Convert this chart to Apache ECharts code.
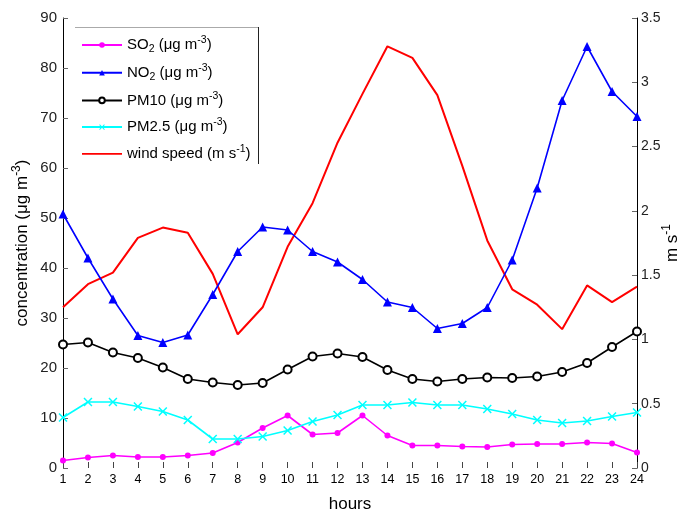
<!DOCTYPE html>
<html>
<head>
<meta charset="utf-8">
<script src="https://cdn.jsdelivr.net/npm/echarts@6/dist/echarts.min.js"></script>
<style>html,body{margin:0;padding:0;background:#fff}#c{width:683px;height:512px}</style>
</head>
<body>
<div id="c"></div>
<script>
const hours = [1,2,3,4,5,6,7,8,9,10,11,12,13,14,15,16,17,18,19,20,21,22,23,24];
const so2  = [1.5,2.1,2.5,2.2,2.2,2.5,3.0,5.1,8.0,10.5,6.7,7.0,10.5,6.5,4.5,4.5,4.3,4.2,4.7,4.8,4.8,5.1,4.9,3.1];
const no2  = [50.8,42.0,33.8,26.5,25.1,26.6,34.7,43.3,48.2,47.6,43.3,41.2,37.7,33.2,32.1,27.9,28.9,32.1,41.6,56.0,73.5,84.3,75.3,70.3];
const pm10 = [24.7,25.1,23.1,22.0,20.1,17.8,17.1,16.6,17.0,19.7,22.3,22.9,22.2,19.6,17.8,17.3,17.8,18.1,18.0,18.3,19.2,21.0,24.2,27.3];
const pm25 = [10.1,13.2,13.2,12.3,11.3,9.6,5.8,5.8,6.3,7.5,9.3,10.6,12.6,12.6,13.1,12.6,12.6,11.8,10.8,9.6,9.0,9.4,10.3,11.1];
const wind = [1.25,1.43,1.52,1.79,1.87,1.83,1.51,1.04,1.25,1.72,2.06,2.53,2.91,3.28,3.19,2.90,2.35,1.77,1.39,1.27,1.08,1.42,1.29,1.41];
const leftTicks = [0,10,20,30,40,50,60,70,80,90];
const rightTicks = [0,0.5,1,1.5,2,2.5,3,3.5];

const pair = arr => hours.map((h,i)=>[h, arr[i]]);
const FONT = 'Liberation Sans, Arial, sans-serif';
const xMark = 'path://M0,1.2L1.2,0L5,3.8L8.8,0L10,1.2L6.2,5L10,8.8L8.8,10L5,6.2L1.2,10L0,8.8L3.8,5Z';
const lineIcon = 'path://M0,0L0.1,0L0,0.1ZM0,2.6L40,2.6L40,4.4L0,4.4ZM0,7L0.1,7L0,6.9Z';

const legendRich = {
  t:{fontSize:15,fontFamily:FONT,color:'#000',lineHeight:20,verticalAlign:'middle'},
  sub:{fontSize:10.5,fontFamily:FONT,color:'#000',lineHeight:20,verticalAlign:'bottom',padding:[8,0,0,0]},
  sup:{fontSize:10.5,fontFamily:FONT,color:'#000',lineHeight:20,verticalAlign:'top',padding:[0,0,8,0]}
};
const legendText = {
  'SO2':'{t|SO}{sub|2}{t| (μg m}{sup|-3}{t|)}',
  'NO2':'{t|NO}{sub|2}{t| (μg m}{sup|-3}{t|)}',
  'PM10':'{t|PM10 (μg m}{sup|-3}{t|)}',
  'PM2.5':'{t|PM2.5 (μg m}{sup|-3}{t|)}',
  'wind':'{t|wind speed (m s}{sup|-1}{t|)}'
};

const chart = echarts.init(document.getElementById('c'));
chart.setOption({
  animation:false,
  backgroundColor:'#fff',
  grid:{left:63,right:46,top:18,bottom:44,containLabel:false,outerBoundsMode:'none'},
  graphic:[
    {type:'line',shape:{x1:75,y1:27.5,x2:259,y2:27.5},style:{stroke:'#aaa',lineWidth:1},z:100},
    {type:'line',shape:{x1:258.5,y1:27,x2:258.5,y2:164},style:{stroke:'#222',lineWidth:1},z:100}
  ],
  legend:{
    left:75, top:29, orient:'vertical',
    itemWidth:40, itemHeight:7, itemGap:7.7,
    padding:[6,5,6,6],
    backgroundColor:'#fff',
    selectedMode:false,
    data:['SO2','NO2','PM10','PM2.5',{name:'wind',icon:lineIcon}],
    formatter: n => legendText[n],
    textStyle:{rich:legendRich, fontFamily:FONT}
  },
  xAxis:{
    type:'value', min:1, max:24, interval:1,
    name:'hours', nameLocation:'middle', nameGap:28, nameMoveOverlap:false,
    nameTextStyle:{fontSize:17,fontFamily:FONT,color:'#000'},
    axisLine:{show:false},
    axisTick:{show:true,inside:true,length:6,lineStyle:{color:'#444'}},
    axisLabel:{fontSize:12.5,fontFamily:FONT,color:'#000',margin:5},
    splitLine:{show:false}
  },
  yAxis:[{
    type:'value', min:leftTicks[0], max:leftTicks[leftTicks.length-1], interval:10,
    name:'{t|concentration (μg m}{sup|-3}{t|)}', nameLocation:'middle', nameGap:30, nameRotate:90,
    nameMoveOverlap:false,
    nameTextStyle:{rich:{
      t:{fontSize:17,fontFamily:FONT,color:'#000',lineHeight:22},
      sup:{fontSize:12,fontFamily:FONT,color:'#000',lineHeight:22,verticalAlign:'top',padding:[0,0,9,0]}
    }},
    axisLine:{show:true,lineStyle:{color:'#000',width:1}},
    axisTick:{show:true,inside:true,length:5,lineStyle:{color:'#666'}},
    axisLabel:{fontSize:15,fontFamily:FONT,color:'#222',margin:6},
    splitLine:{show:false}
  },{
    type:'value', min:rightTicks[0], max:rightTicks[rightTicks.length-1], interval:0.5,
    position:'right',
    name:'{t|m s}{sup|-1}', nameLocation:'middle', nameGap:24, nameRotate:90,
    nameMoveOverlap:false,
    nameTextStyle:{rich:{
      t:{fontSize:17,fontFamily:FONT,color:'#000',lineHeight:22},
      sup:{fontSize:12,fontFamily:FONT,color:'#000',lineHeight:22,verticalAlign:'top',padding:[0,0,9,0]}
    }},
    axisLine:{show:true,lineStyle:{color:'#000',width:1}},
    axisTick:{show:true,inside:true,length:5,lineStyle:{color:'#666'}},
    axisLabel:{fontSize:14,fontFamily:FONT,color:'#222',margin:4},
    splitLine:{show:false}
  }],
  series:[
    {name:'SO2',type:'line',data:pair(so2),yAxisIndex:0,symbol:'circle',symbolSize:6,
      lineStyle:{color:'#ff00ff',width:1.6},itemStyle:{color:'#ff00ff'},z:5},
    {name:'NO2',type:'line',data:pair(no2),yAxisIndex:0,symbol:'triangle',symbolSize:9,
      lineStyle:{color:'#0000ff',width:1.6},itemStyle:{color:'#0000ff'},z:5},
    {name:'PM10',type:'line',data:pair(pm10),yAxisIndex:0,symbol:'emptyCircle',symbolSize:8,
      lineStyle:{color:'#000',width:1.6},itemStyle:{color:'#000',borderWidth:1.3},z:5},
    {name:'PM2.5',type:'line',data:pair(pm25),yAxisIndex:0,symbol:xMark,symbolSize:9,
      lineStyle:{color:'#00ffff',width:1.6},itemStyle:{color:'#00ffff'},z:5},
    {name:'wind',type:'line',data:pair(wind),yAxisIndex:1,symbol:'none',
      lineStyle:{color:'#ff0000',width:2},itemStyle:{color:'#ff0000'},z:4}
  ]
});
</script>
</body>
</html>
